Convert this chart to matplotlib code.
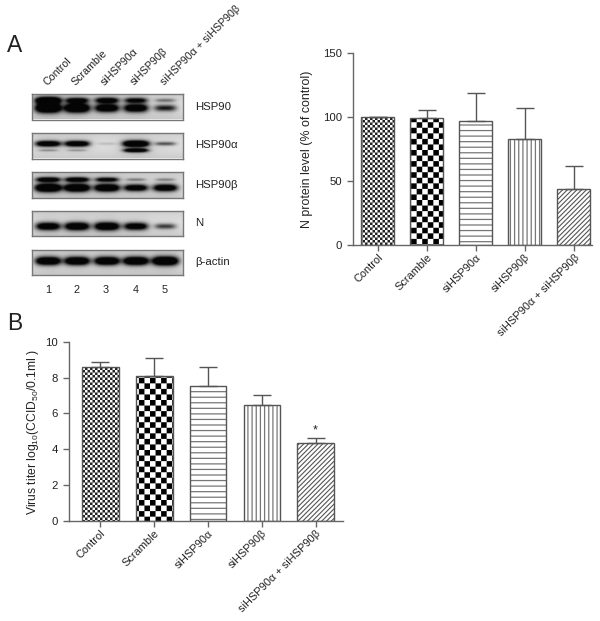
import numpy as np
import matplotlib
matplotlib.use("Agg")
import matplotlib.pyplot as plt
import matplotlib.hatch as mhatch
from matplotlib.path import Path

# ---------- data ----------
bar_labels = ["Control", "Scramble", "siHSP90α", "siHSP90β", "siHSP90α + siHSP90β"]
n_protein = [100, 99.5, 97, 83, 44]
n_protein_top = [100, 106, 119, 107, 62]
virus_titer = [8.6, 8.1, 7.52, 6.48, 4.37]
virus_titer_top = [8.85, 9.07, 8.57, 7.02, 4.62]
lane_numbers = ["1", "2", "3", "4", "5"]
blot_names = ["HSP90", "HSP90α", "HSP90β", "N", "β-actin"]

# band darkness per lane (0 = none, 1 = saturated)
hsp90_upper = [0.95, 0.65, 0.70, 0.60, 0.25]
hsp90_lower = [1.00, 0.95, 0.80, 0.80, 0.50]
alpha_upper = [0.85, 0.85, 0.08, 1.00, 0.35]
alpha_lower = [0.18, 0.16, 0.00, 0.80, 0.00]
beta_upper = [0.75, 0.75, 0.65, 0.22, 0.20]
beta_lower = [1.00, 0.95, 0.90, 0.75, 0.80]
n_band = [0.80, 0.85, 0.88, 0.75, 0.40]
actin_band = [0.90, 0.90, 0.90, 0.92, 1.00]

W, H = 600, 621
plt.rcParams["font.family"] = ["Liberation Sans", "DejaVu Sans"]
plt.rcParams["mathtext.fontset"] = "custom"
plt.rcParams["mathtext.rm"] = "Liberation Sans"
plt.rcParams["mathtext.default"] = "regular"
TXT = "#222222"
AXC = "#666666"


# ---------- checkerboard fill patterns ----------
class Checker(mhatch.HatchPatternBase):
    def __init__(self, hatch, density):
        self.n = 40 * hatch.count("o") + 18 * hatch.count("O")
        self.num_vertices = 5 * (self.n * self.n // 2)

    def set_vertices_and_codes(self, vertices, codes):
        s = 1.0 / self.n if self.n else 0
        k = 0
        for i in range(self.n):
            for j in range(self.n):
                if (i + j) % 2 == 0:
                    x, y = i * s, j * s
                    vertices[k:k + 5] = [(x, y), (x + s, y), (x + s, y + s), (x, y + s), (x, y)]
                    codes[k:k + 5] = [Path.MOVETO, Path.LINETO, Path.LINETO, Path.LINETO, Path.CLOSEPOLY]
                    k += 5


mhatch._hatch_types[:] = [t for t in mhatch._hatch_types
                          if t.__name__ not in ("SmallCircles", "LargeCircles")] + [Checker]

fig = plt.figure(figsize=(W / 100, H / 100), dpi=100, facecolor="white")


def px_axes(x0, y_top, x1, y_bot):
    return fig.add_axes([x0 / W, 1 - y_bot / H, (x1 - x0) / W, (y_bot - y_top) / H])


def px_text(x, y, s, **kw):
    kw.setdefault("color", TXT)
    return fig.text(x / W, 1 - y / H, s, **kw)


# ---------- bar charts ----------
fills = ["o", "O", "---", "||||", "///////"]
fill_colors = ["#222222", "#000000", "#777777", "#777777", "#555555"]
fill_widths = [0.01, 0.01, 0.9, 0.9, 0.8]


def bar_panel(ax, values, tops, ymax, yticks, bar_w, cap):
    x = np.arange(len(values))
    for i, v in enumerate(values):
        with plt.rc_context({"hatch.linewidth": fill_widths[i]}):
            ax.bar(x[i], v, width=bar_w, facecolor="white", edgecolor=fill_colors[i],
                   hatch=fills[i], linewidth=0, zorder=2)
        ax.bar(x[i], v, width=bar_w, facecolor="none", edgecolor="#555555",
               linewidth=1.0, zorder=3)
    upper = np.maximum(np.array(tops) - np.array(values), 0)
    ax.errorbar(x, values, yerr=[np.zeros(len(values)), upper], fmt="none", ecolor="#555555",
                elinewidth=1.0, capsize=cap, capthick=1.0, zorder=4)
    ax.set_ylim(0, ymax)
    ax.set_yticks(yticks)
    ax.set_xticks(x)
    ax.set_xticklabels(bar_labels, rotation=45, ha="right", va="top", rotation_mode="anchor",
                       fontsize=7.9, color=TXT)
    ax.tick_params(axis="y", length=4, width=1, color=AXC, labelsize=8.2, labelcolor=TXT, pad=4)
    ax.tick_params(axis="x", length=4, width=1, color=AXC, labelsize=7.9, labelcolor=TXT, pad=1.5)
    for s in ("top", "right"):
        ax.spines[s].set_visible(False)
    for s in ("left", "bottom"):
        ax.spines[s].set_color(AXC)
        ax.spines[s].set_linewidth(1.0)


ax_a = px_axes(353, 53.3, 592, 245)
bar_panel(ax_a, n_protein, n_protein_top, 150, [0, 50, 100, 150], 0.67, 6.5)
ax_a.set_xlim(-0.5, 4.37)
px_text(307, 149, "N protein level (% of control)", rotation=90, ha="center", va="center", fontsize=8.9)

ax_b = px_axes(69, 341.7, 343, 521)
bar_panel(ax_b, virus_titer, virus_titer_top, 10, [0, 2, 4, 6, 8, 10], 0.68, 6.8)
ax_b.set_xlim(-0.585, 4.51)
px_text(33, 432, "Virus titer log$_{10}$(CCID$_{50}$/0.1ml )", rotation=90, ha="center", va="center", fontsize=8.7)
ax_b.text(4, virus_titer_top[4] + 0.45, "*", ha="center", va="center", fontsize=9, color=TXT)


# ---------- western blots ----------
def blot(y_top, bands):
    ax = px_axes(32, y_top, 183, y_top + 25.5)
    nx, ny = 302, 52
    xx = np.linspace(32, 183, nx)
    yy = np.linspace(0, 1, ny)
    img = np.full((ny, nx), 0.80) + 0.07 * np.sin(np.pi * yy)[:, None]
    lanes = np.array([48, 77, 107, 136, 165.5])
    dark = np.zeros_like(img)
    for levels, pos, sig in bands:
        for c, v in zip(lanes, levels):
            if v <= 0:
                continue
            hw = 9 + 4 * v
            h = np.exp(-np.abs((xx - c) / hw) ** 3.5)
            s = sig * (0.45 + 0.75 * v)
            g = np.exp(-((yy - pos) / s) ** 2)
            dark += 1.5 * v * g[:, None] * h[None, :]
            dark += 0.10 * v * np.exp(-((yy - pos) / (3 * s)) ** 2)[:, None] * np.exp(-((xx - c) / (hw * 1.25)) ** 2)[None, :]
    ax.imshow(np.clip(img - dark, 0.02, 1), cmap="gray", vmin=0, vmax=1, aspect="auto",
              interpolation="bilinear")
    ax.set_xticks([])
    ax.set_yticks([])
    for s in ax.spines.values():
        s.set_color("#777777")
        s.set_linewidth(1.0)


blot_tops = [94, 133, 172, 210.5, 249.5]
blot_layers = [
    [(hsp90_upper, 0.28, 0.11), (hsp90_lower, 0.58, 0.15)],
    [(alpha_upper, 0.45, 0.10), (alpha_lower, 0.71, 0.07)],
    [(beta_upper, 0.29, 0.09), (beta_lower, 0.61, 0.13)],
    [(n_band, 0.63, 0.14)],
    [(actin_band, 0.46, 0.14)],
]
for top, layers, name in zip(blot_tops, blot_layers, blot_names):
    blot(top, layers)
    px_text(195, top + 12.5, name, ha="left", va="center", fontsize=8.2)

# ---------- texts around the blots ----------
for x, s in zip([49, 77, 106, 136, 166], bar_labels):
    px_text(x, 87, s, rotation=45, ha="left", va="bottom", rotation_mode="anchor", fontsize=7.7)
for x, s in zip([48, 77, 106, 136, 165], lane_numbers):
    px_text(x, 290, s, ha="center", va="center", fontsize=7.8)

px_text(7, 52, "A", ha="left", va="baseline", fontsize=16.5)
px_text(7, 329.5, "B", ha="left", va="baseline", fontsize=16.5)

fig.savefig("out.png", dpi=100)
